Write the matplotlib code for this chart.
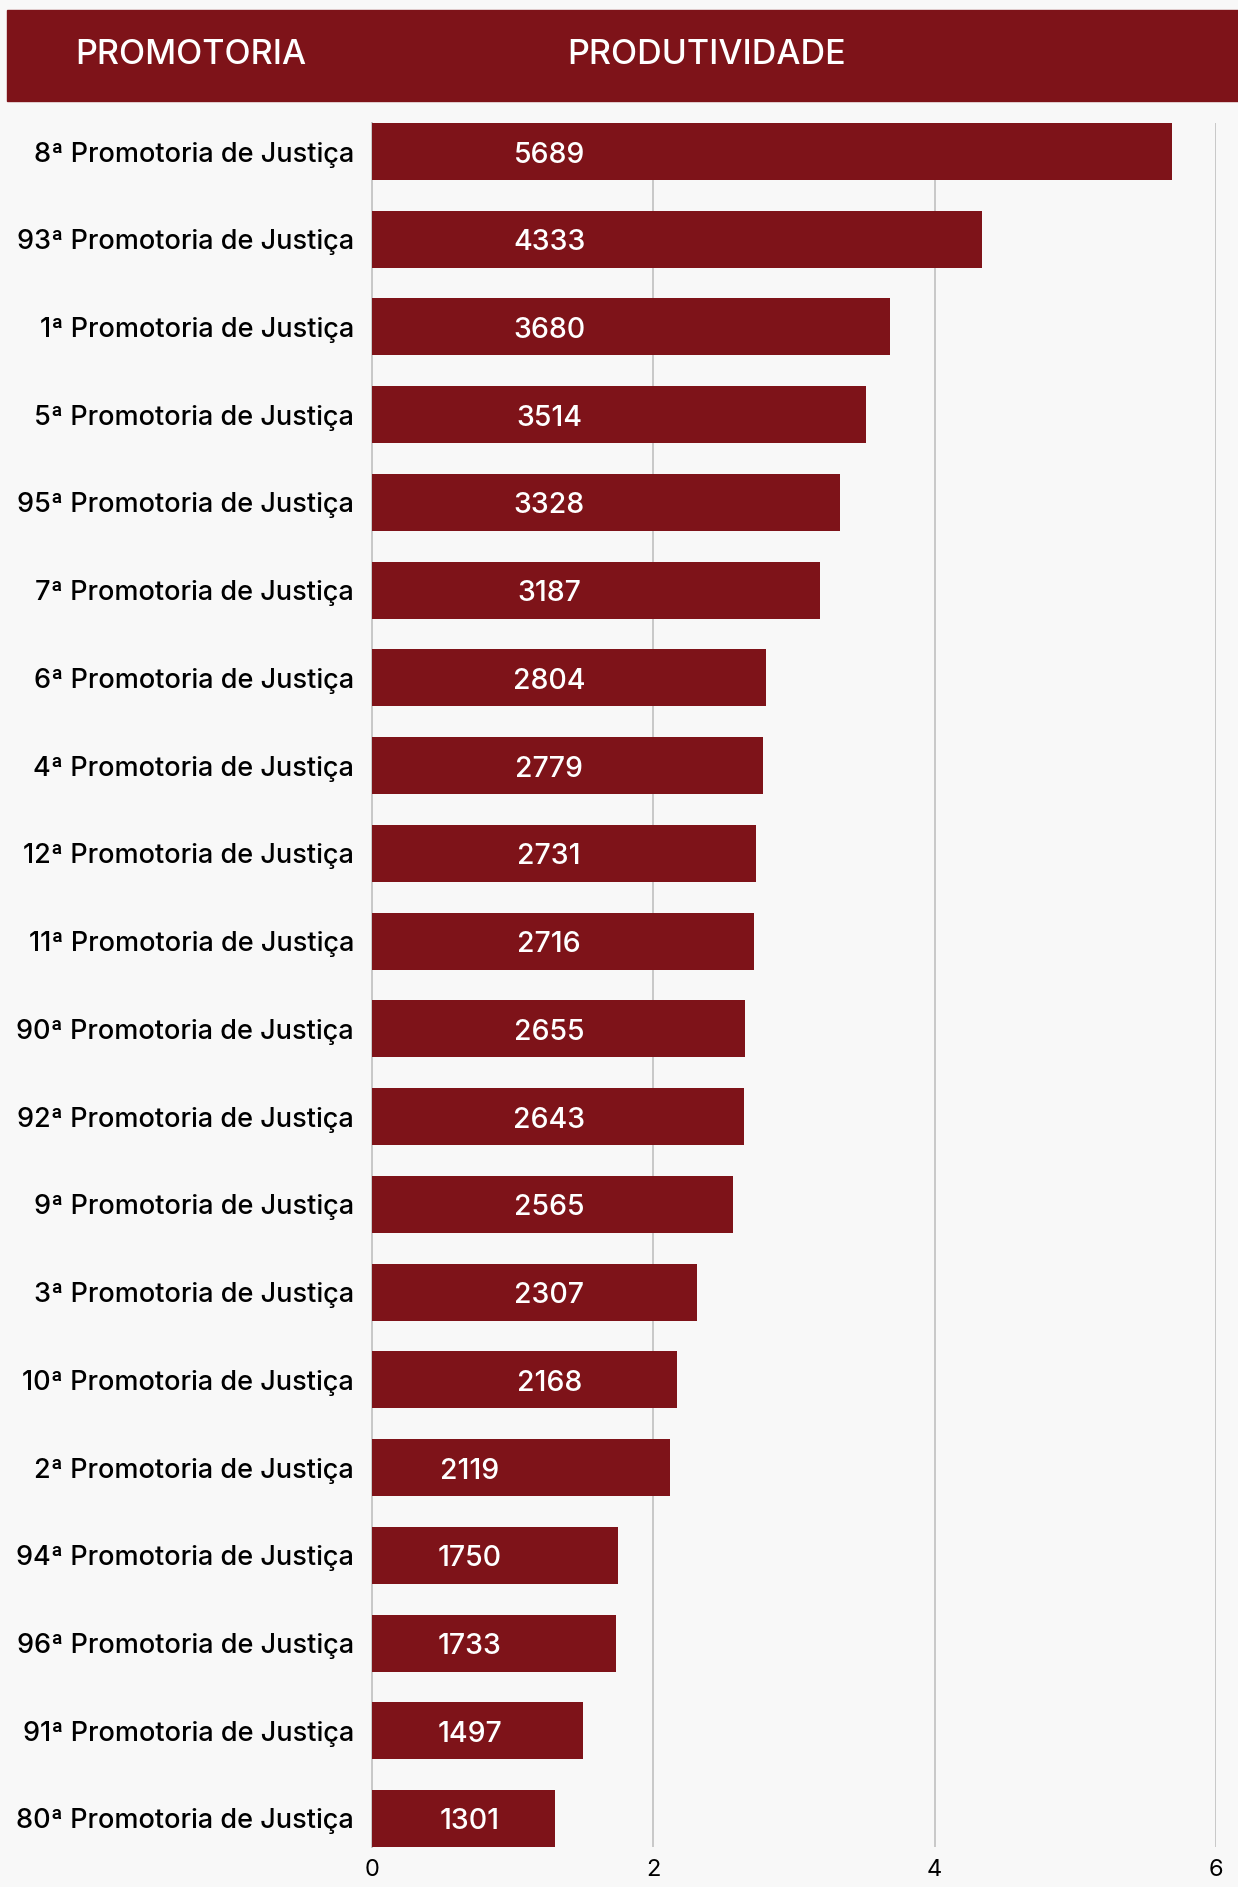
import matplotlib.pyplot as plt
from matplotlib.patches import Rectangle
from matplotlib.ticker import FixedLocator, FixedFormatter

# dados (de cima para baixo)
promotorias = [
    "8ª Promotoria de Justiça", "93ª Promotoria de Justiça", "1ª Promotoria de Justiça",
    "5ª Promotoria de Justiça", "95ª Promotoria de Justiça", "7ª Promotoria de Justiça",
    "6ª Promotoria de Justiça", "4ª Promotoria de Justiça", "12ª Promotoria de Justiça",
    "11ª Promotoria de Justiça", "90ª Promotoria de Justiça", "92ª Promotoria de Justiça",
    "9ª Promotoria de Justiça", "3ª Promotoria de Justiça", "10ª Promotoria de Justiça",
    "2ª Promotoria de Justiça", "94ª Promotoria de Justiça", "96ª Promotoria de Justiça",
    "91ª Promotoria de Justiça", "80ª Promotoria de Justiça",
]
produtividade = [5689, 4333, 3680, 3514, 3328, 3187, 2804, 2779, 2731, 2716,
                 2655, 2643, 2565, 2307, 2168, 2119, 1750, 1733, 1497, 1301]

# eixo x em milhares
tick_pos = [0, 2000, 4000, 6000]
tick_txt = ["0", "2", "4", "6"]

VINHO = "#7E1319"
FUNDO = "#F8F8F8"
FONTE = "Inter"

W, H = 1238, 1887
fig = plt.figure(figsize=(W / 100, H / 100), dpi=100)
fig.patch.set_facecolor(FUNDO)

# faixa do cabeçalho
fig.patches.append(Rectangle((7 / W, 1 - 101 / H), 1 - 7 / W, 91 / H,
                             transform=fig.transFigure, color=VINHO, zorder=0))
fig.text(191 / W, 1 - 55 / H, "PROMOTORIA", color="white", fontsize=24.5,
         family=FONTE, weight="medium", ha="center", va="center")
fig.text(707 / W, 1 - 55 / H, "PRODUTIVIDADE", color="white", fontsize=24.5,
         family=FONTE, weight="medium", ha="center", va="center")

ax = fig.add_axes([372 / W, 1 - 1847 / H, (1216 - 372) / W, (1847 - 123) / H])
ax.set_facecolor(FUNDO)

n = len(produtividade)
ypos = list(range(n))
alt = 0.65
ax.barh(ypos, produtividade, height=alt, color=VINHO, zorder=3)
ax.set_ylim(n - 1 + alt / 2, -alt / 2)
ax.set_xlim(0, 6000)

for y, v in zip(ypos, produtividade):
    xl = 1260 if v > 2150 else 694
    ax.text(xl, y + 0.04, str(v), color="white", fontsize=20.5, family=FONTE,
            weight="medium", ha="center", va="center", zorder=4)

ax.set_yticks(ypos)
ax.set_yticklabels(promotorias, fontsize=19.5, family=FONTE, weight="medium")
ax.xaxis.set_major_locator(FixedLocator(tick_pos))
ax.xaxis.set_major_formatter(FixedFormatter(tick_txt))
for lb in ax.get_xticklabels():
    lb.set_family(FONTE)
    lb.set_fontsize(17)
ax.tick_params(axis="y", length=0, pad=13)
ax.tick_params(axis="x", length=0, pad=9)

ax.grid(axis="x", color="#C8C8C8", linewidth=1.4, zorder=1)
for s in ["top", "right", "bottom"]:
    ax.spines[s].set_visible(False)
ax.spines["left"].set_color("#C8C8C8")
ax.spines["left"].set_linewidth(1.4)

fig.savefig("out.png", dpi=100, facecolor=FUNDO)
